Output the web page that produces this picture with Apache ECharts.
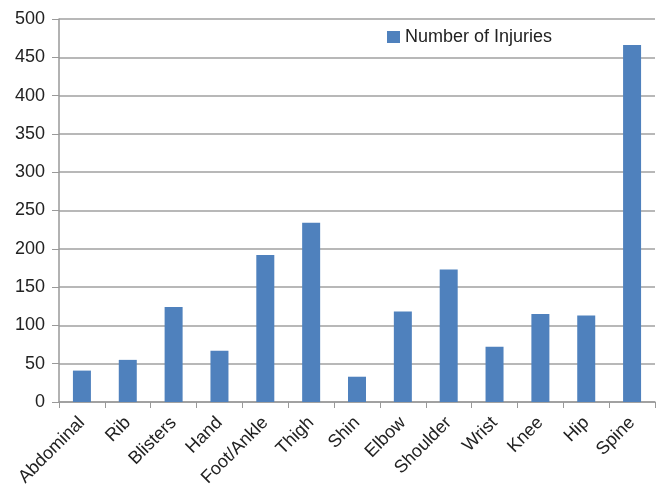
<!DOCTYPE html>
<html>
<head>
<meta charset="utf-8">
<script src="https://cdn.jsdelivr.net/npm/echarts@6/dist/echarts.min.js"></script>
<style>
  html, body { margin: 0; padding: 0; background: #fff; }
  #chart { width: 657px; height: 484px; }
</style>
</head>
<body>
<div id="chart"></div>
<script>
const categories = ["Abdominal", "Rib", "Blisters", "Hand", "Foot/Ankle", "Thigh", "Shin", "Elbow", "Shoulder", "Wrist", "Knee", "Hip", "Spine"];
const injuries = [41, 55, 124, 67, 192, 234, 33, 118, 173, 72, 115, 113, 466];
const seriesName = "Number of Injuries";

const chart = echarts.init(document.getElementById("chart"));

chart.setOption({
  animation: false,
  textStyle: { fontFamily: "Liberation Sans, Arial, sans-serif" },
  legend: {
    left: 382,
    top: 23,
    itemWidth: 13,
    itemHeight: 12,
    itemGap: 5,
    textStyle: { fontSize: 18, color: "#222" },
    data: [{ name: seriesName, icon: "rect" }]
  },
  grid: { left: 59, right: 2, top: 19, bottom: 82, outerBoundsMode: "none", containLabel: false },
  xAxis: {
    type: "category",
    data: categories,
    axisLine: { lineStyle: { color: "#999", width: 1.5 } },
    axisTick: { show: true, length: 6, lineStyle: { color: "#999" } },
    axisLabel: {
      rotate: 45,
      interval: 0,
      margin: 18,
      padding: [22, 0, 0, 0],
      fontSize: 18,
      color: "#222"
    }
  },
  yAxis: {
    type: "value",
    min: 0,
    max: 500,
    interval: 50,
    axisLine: { show: true, lineStyle: { color: "#999", width: 1.5 } },
    axisTick: { show: true, length: 7, lineStyle: { color: "#999" } },
    axisLabel: { fontSize: 18, color: "#222", margin: 14 },
    splitLine: { lineStyle: { color: "#a0a0a0", width: 1.5 } }
  },
  series: [
    {
      name: seriesName,
      type: "bar",
      data: injuries,
      barWidth: 18,
      itemStyle: { color: "#4f81bd" }
    }
  ]
});
</script>
</body>
</html>
